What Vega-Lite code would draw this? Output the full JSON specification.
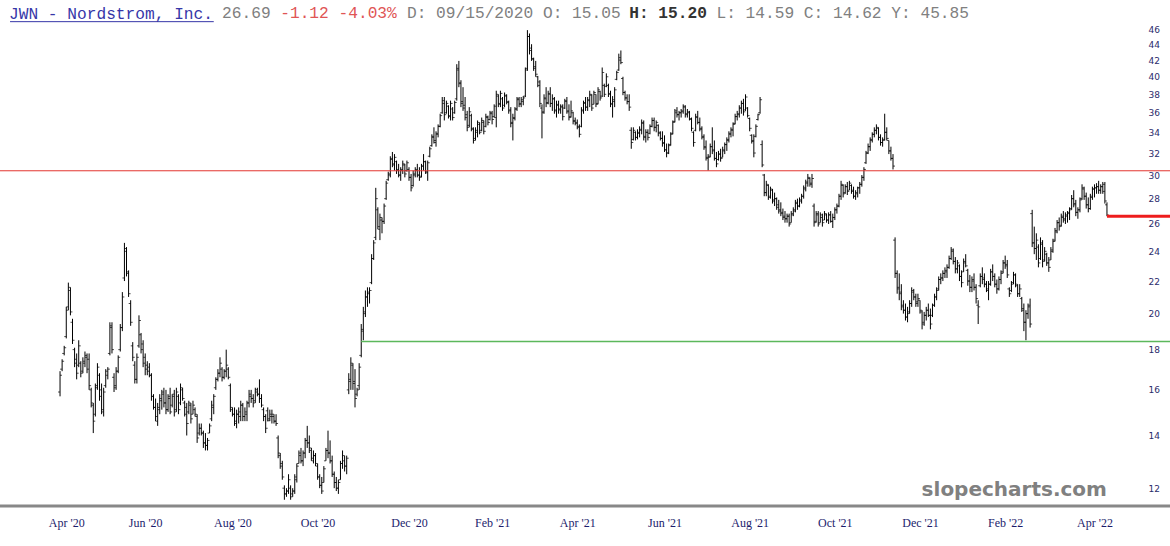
{
"$schema":"https://vega.github.io/schema/vega-lite/v6.json",
"width":1170,"height":486,"autosize":"none",
"padding":{"top":20,"left":0,"right":0,"bottom":40},
"background":"white",
"config":{"view":{"stroke":null}},
"title":{"text":"JWN - Nordstrom, Inc.","anchor":"start","frame":"group","dx":9,"dy":15,"offset":-1.5,"font":"Liberation Mono","fontSize":16.2,"fontWeight":"normal","color":"#3636a8"},
"datasets":{"ohlc":[
{"d":"2020-04-23","o":15.9,"h":16.9,"l":15.7,"c":16.7},
{"d":"2020-04-24","o":17.0,"h":17.5,"l":16.9,"c":17.4},
{"d":"2020-04-27","o":17.8,"h":18.2,"l":17.7,"c":18.1},
{"d":"2020-04-28","o":18.7,"h":20.4,"l":18.6,"c":20.2},
{"d":"2020-04-29","o":20.4,"h":21.9,"l":20.2,"c":21.6},
{"d":"2020-04-30","o":21.4,"h":21.6,"l":19.9,"c":20.1},
{"d":"2020-05-01","o":19.5,"h":19.7,"l":18.3,"c":18.5},
{"d":"2020-05-04","o":18.0,"h":18.1,"l":17.1,"c":17.3},
{"d":"2020-05-05","o":17.5,"h":17.8,"l":16.5,"c":16.8},
{"d":"2020-05-06","o":17.2,"h":18.5,"l":17.1,"c":18.2},
{"d":"2020-05-07","o":17.3,"h":17.4,"l":16.6,"c":16.8},
{"d":"2020-05-08","o":16.9,"h":17.6,"l":16.8,"c":17.4},
{"d":"2020-05-11","o":17.3,"h":17.9,"l":17.1,"c":17.7},
{"d":"2020-05-12","o":17.6,"h":17.8,"l":16.8,"c":17.0},
{"d":"2020-05-13","o":17.5,"h":17.8,"l":16.0,"c":16.2},
{"d":"2020-05-14","o":16.0,"h":16.1,"l":15.2,"c":15.4},
{"d":"2020-05-15","o":15.3,"h":15.4,"l":14.1,"c":14.6},
{"d":"2020-05-18","o":14.9,"h":16.3,"l":14.8,"c":16.1},
{"d":"2020-05-19","o":16.2,"h":17.3,"l":16.0,"c":17.1},
{"d":"2020-05-20","o":16.7,"h":16.8,"l":15.5,"c":15.7},
{"d":"2020-05-21","o":16.0,"h":16.3,"l":14.9,"c":15.1},
{"d":"2020-05-22","o":15.0,"h":16.1,"l":14.8,"c":15.9},
{"d":"2020-05-26","o":16.2,"h":17.0,"l":16.1,"c":16.9},
{"d":"2020-05-27","o":16.7,"h":17.1,"l":16.5,"c":17.0},
{"d":"2020-05-28","o":17.8,"h":19.5,"l":17.7,"c":19.3},
{"d":"2020-05-29","o":19.2,"h":19.5,"l":17.8,"c":18.0},
{"d":"2020-06-01","o":16.6,"h":16.8,"l":15.9,"c":16.1},
{"d":"2020-06-02","o":16.2,"h":17.1,"l":16.0,"c":16.9},
{"d":"2020-06-03","o":16.9,"h":17.7,"l":16.8,"c":17.6},
{"d":"2020-06-04","o":18.0,"h":19.4,"l":17.9,"c":19.2},
{"d":"2020-06-05","o":19.2,"h":21.3,"l":19.0,"c":21.0},
{"d":"2020-06-08","o":22.2,"h":24.6,"l":22.0,"c":24.2},
{"d":"2020-06-09","o":24.0,"h":24.3,"l":22.3,"c":22.6},
{"d":"2020-06-10","o":22.5,"h":22.7,"l":21.0,"c":21.2},
{"d":"2020-06-11","o":20.6,"h":20.8,"l":19.3,"c":19.5},
{"d":"2020-06-12","o":18.2,"h":18.4,"l":17.4,"c":17.6},
{"d":"2020-06-15","o":17.2,"h":17.4,"l":16.3,"c":16.5},
{"d":"2020-06-16","o":16.5,"h":17.8,"l":16.3,"c":17.6},
{"d":"2020-06-17","o":18.2,"h":19.9,"l":18.1,"c":19.6},
{"d":"2020-06-18","o":18.8,"h":18.9,"l":17.8,"c":18.0},
{"d":"2020-06-19","o":18.3,"h":18.5,"l":17.1,"c":17.3},
{"d":"2020-06-22","o":17.6,"h":17.8,"l":16.7,"c":17.0},
{"d":"2020-06-23","o":17.2,"h":17.4,"l":16.7,"c":16.9},
{"d":"2020-06-24","o":17.1,"h":17.3,"l":16.6,"c":16.7},
{"d":"2020-06-25","o":16.7,"h":16.8,"l":15.5,"c":15.7},
{"d":"2020-06-26","o":15.7,"h":15.8,"l":15.1,"c":15.2},
{"d":"2020-06-29","o":15.2,"h":15.6,"l":14.6,"c":14.8},
{"d":"2020-06-30","o":14.6,"h":15.4,"l":14.4,"c":15.2},
{"d":"2020-07-01","o":15.1,"h":15.8,"l":14.9,"c":15.6},
{"d":"2020-07-02","o":15.5,"h":16.0,"l":15.1,"c":15.8},
{"d":"2020-07-06","o":15.9,"h":16.1,"l":15.2,"c":15.4},
{"d":"2020-07-07","o":15.4,"h":16.0,"l":14.9,"c":15.1},
{"d":"2020-07-08","o":15.1,"h":15.8,"l":15.0,"c":15.6},
{"d":"2020-07-09","o":15.7,"h":16.1,"l":14.9,"c":15.0},
{"d":"2020-07-10","o":15.3,"h":15.8,"l":15.2,"c":15.7},
{"d":"2020-07-13","o":15.8,"h":16.0,"l":14.8,"c":15.0},
{"d":"2020-07-14","o":15.1,"h":16.1,"l":15.0,"c":15.9},
{"d":"2020-07-15","o":15.7,"h":15.8,"l":14.9,"c":15.1},
{"d":"2020-07-16","o":15.4,"h":16.3,"l":15.3,"c":16.1},
{"d":"2020-07-17","o":16.0,"h":16.1,"l":15.5,"c":15.6},
{"d":"2020-07-20","o":15.4,"h":15.5,"l":14.8,"c":14.9},
{"d":"2020-07-21","o":15.2,"h":15.4,"l":14.0,"c":14.5},
{"d":"2020-07-22","o":15.0,"h":15.5,"l":14.9,"c":15.4},
{"d":"2020-07-23","o":15.3,"h":15.4,"l":14.5,"c":14.7},
{"d":"2020-07-24","o":14.9,"h":15.5,"l":14.9,"c":15.3},
{"d":"2020-07-27","o":15.1,"h":15.2,"l":14.8,"c":14.9},
{"d":"2020-07-28","o":14.8,"h":14.9,"l":13.7,"c":13.9},
{"d":"2020-07-29","o":14.1,"h":14.5,"l":14.0,"c":14.3},
{"d":"2020-07-30","o":14.3,"h":14.5,"l":14.0,"c":14.1},
{"d":"2020-07-31","o":14.1,"h":14.2,"l":13.5,"c":13.7},
{"d":"2020-08-03","o":13.7,"h":14.1,"l":13.4,"c":13.6},
{"d":"2020-08-04","o":13.6,"h":13.9,"l":13.4,"c":13.8},
{"d":"2020-08-05","o":14.1,"h":14.5,"l":14.1,"c":14.4},
{"d":"2020-08-06","o":14.7,"h":15.5,"l":14.6,"c":15.3},
{"d":"2020-08-07","o":15.2,"h":15.8,"l":14.9,"c":15.7},
{"d":"2020-08-10","o":16.1,"h":16.6,"l":16.0,"c":16.5},
{"d":"2020-08-11","o":16.5,"h":17.0,"l":16.4,"c":16.8},
{"d":"2020-08-12","o":16.8,"h":17.6,"l":16.6,"c":17.3},
{"d":"2020-08-13","o":17.0,"h":17.1,"l":16.4,"c":16.6},
{"d":"2020-08-14","o":16.6,"h":17.0,"l":16.5,"c":16.9},
{"d":"2020-08-17","o":16.9,"h":18.0,"l":16.6,"c":17.2},
{"d":"2020-08-18","o":17.0,"h":17.1,"l":16.5,"c":16.6},
{"d":"2020-08-19","o":16.2,"h":16.3,"l":15.0,"c":15.2},
{"d":"2020-08-20","o":15.1,"h":15.2,"l":14.8,"c":14.9},
{"d":"2020-08-21","o":14.9,"h":15.2,"l":14.4,"c":14.6},
{"d":"2020-08-24","o":14.5,"h":15.1,"l":14.3,"c":14.9},
{"d":"2020-08-25","o":14.9,"h":15.2,"l":14.5,"c":15.0},
{"d":"2020-08-26","o":14.8,"h":15.5,"l":14.6,"c":15.3},
{"d":"2020-08-27","o":15.3,"h":15.4,"l":14.6,"c":14.8},
{"d":"2020-08-28","o":14.8,"h":15.2,"l":14.6,"c":15.0},
{"d":"2020-08-31","o":14.9,"h":15.5,"l":14.6,"c":15.4},
{"d":"2020-09-01","o":15.4,"h":16.0,"l":15.2,"c":15.8},
{"d":"2020-09-02","o":15.7,"h":16.0,"l":15.4,"c":15.6},
{"d":"2020-09-03","o":15.6,"h":15.8,"l":15.2,"c":15.4},
{"d":"2020-09-04","o":15.5,"h":16.1,"l":15.4,"c":16.0},
{"d":"2020-09-08","o":15.9,"h":16.1,"l":15.7,"c":15.8},
{"d":"2020-09-09","o":15.8,"h":16.5,"l":15.4,"c":15.6},
{"d":"2020-09-10","o":15.6,"h":15.8,"l":15.2,"c":15.3},
{"d":"2020-09-11","o":15.1,"h":15.2,"l":14.6,"c":14.8},
{"d":"2020-09-14","o":14.8,"h":14.9,"l":14.1,"c":14.3},
{"d":"2020-09-15","o":15.05,"h":15.2,"l":14.59,"c":14.62},
{"d":"2020-09-16","o":14.7,"h":15.1,"l":14.6,"c":14.9},
{"d":"2020-09-17","o":14.8,"h":15.1,"l":14.5,"c":14.9},
{"d":"2020-09-18","o":14.8,"h":14.9,"l":14.5,"c":14.6},
{"d":"2020-09-21","o":14.6,"h":14.9,"l":14.4,"c":14.5},
{"d":"2020-09-22","o":13.9,"h":14.0,"l":13.1,"c":13.3},
{"d":"2020-09-23","o":13.2,"h":13.3,"l":12.7,"c":12.8},
{"d":"2020-09-24","o":12.9,"h":13.0,"l":12.3,"c":12.4},
{"d":"2020-09-25","o":12.0,"h":12.1,"l":11.6,"c":11.8},
{"d":"2020-09-28","o":11.8,"h":12.0,"l":11.7,"c":11.9},
{"d":"2020-09-29","o":11.9,"h":12.5,"l":11.8,"c":12.3},
{"d":"2020-09-30","o":12.0,"h":12.1,"l":11.6,"c":11.7},
{"d":"2020-10-01","o":11.8,"h":12.0,"l":11.7,"c":11.9},
{"d":"2020-10-02","o":11.9,"h":12.5,"l":11.8,"c":12.4},
{"d":"2020-10-05","o":12.3,"h":12.9,"l":12.2,"c":12.8},
{"d":"2020-10-06","o":12.9,"h":13.4,"l":12.9,"c":13.3},
{"d":"2020-10-07","o":13.2,"h":13.5,"l":12.9,"c":13.0},
{"d":"2020-10-08","o":13.0,"h":13.4,"l":12.8,"c":13.3},
{"d":"2020-10-09","o":13.3,"h":13.9,"l":13.1,"c":13.8},
{"d":"2020-10-12","o":13.8,"h":14.4,"l":13.5,"c":13.7},
{"d":"2020-10-13","o":13.7,"h":14.0,"l":13.3,"c":13.5},
{"d":"2020-10-14","o":13.4,"h":13.5,"l":13.0,"c":13.1},
{"d":"2020-10-15","o":13.0,"h":13.4,"l":12.9,"c":13.2},
{"d":"2020-10-16","o":13.2,"h":13.3,"l":12.8,"c":12.9},
{"d":"2020-10-19","o":12.8,"h":12.9,"l":12.3,"c":12.4},
{"d":"2020-10-20","o":12.4,"h":12.5,"l":12.0,"c":12.1},
{"d":"2020-10-21","o":12.1,"h":12.4,"l":11.8,"c":11.9},
{"d":"2020-10-22","o":12.2,"h":12.8,"l":12.2,"c":12.7},
{"d":"2020-10-23","o":13.0,"h":13.5,"l":13.0,"c":13.4},
{"d":"2020-10-26","o":13.4,"h":14.2,"l":13.1,"c":13.3},
{"d":"2020-10-27","o":13.3,"h":13.8,"l":12.9,"c":13.0},
{"d":"2020-10-28","o":13.0,"h":13.2,"l":12.4,"c":12.5},
{"d":"2020-10-29","o":12.5,"h":12.6,"l":12.0,"c":12.2},
{"d":"2020-10-30","o":12.2,"h":12.4,"l":11.9,"c":12.0},
{"d":"2020-11-02","o":12.0,"h":12.3,"l":11.8,"c":12.2},
{"d":"2020-11-03","o":12.3,"h":13.0,"l":12.3,"c":12.9},
{"d":"2020-11-04","o":12.9,"h":13.4,"l":12.7,"c":13.2},
{"d":"2020-11-05","o":13.0,"h":13.2,"l":12.6,"c":12.8},
{"d":"2020-11-06","o":12.8,"h":13.2,"l":12.5,"c":13.1},
{"d":"2020-11-09","o":16.0,"h":16.8,"l":15.8,"c":16.5},
{"d":"2020-11-10","o":16.4,"h":17.6,"l":16.0,"c":17.3},
{"d":"2020-11-11","o":17.2,"h":17.3,"l":16.0,"c":16.3},
{"d":"2020-11-12","o":16.4,"h":17.0,"l":15.2,"c":15.6},
{"d":"2020-11-13","o":15.8,"h":16.1,"l":15.7,"c":16.0},
{"d":"2020-11-16","o":16.2,"h":17.3,"l":16.0,"c":17.1},
{"d":"2020-11-17","o":17.7,"h":19.4,"l":17.6,"c":19.1},
{"d":"2020-11-18","o":19.0,"h":20.4,"l":18.5,"c":20.1},
{"d":"2020-11-19","o":20.0,"h":21.4,"l":19.8,"c":21.0},
{"d":"2020-11-20","o":21.0,"h":21.6,"l":20.4,"c":21.2},
{"d":"2020-11-23","o":21.3,"h":21.6,"l":20.6,"c":21.4},
{"d":"2020-11-24","o":21.9,"h":23.8,"l":21.8,"c":23.5},
{"d":"2020-11-25","o":23.5,"h":24.8,"l":23.4,"c":24.6},
{"d":"2020-11-27","o":25.0,"h":28.9,"l":24.8,"c":28.0},
{"d":"2020-11-30","o":27.1,"h":27.3,"l":25.6,"c":25.8},
{"d":"2020-12-01","o":25.6,"h":26.8,"l":24.8,"c":26.5},
{"d":"2020-12-02","o":26.3,"h":26.5,"l":25.3,"c":26.2},
{"d":"2020-12-03","o":26.2,"h":27.6,"l":26.0,"c":27.4},
{"d":"2020-12-04","o":28.0,"h":29.5,"l":27.9,"c":29.3},
{"d":"2020-12-07","o":29.6,"h":30.3,"l":29.5,"c":30.1},
{"d":"2020-12-08","o":30.0,"h":31.7,"l":29.8,"c":31.4},
{"d":"2020-12-09","o":31.5,"h":32.1,"l":30.7,"c":31.0},
{"d":"2020-12-10","o":30.9,"h":31.9,"l":30.4,"c":31.6},
{"d":"2020-12-11","o":31.2,"h":31.3,"l":30.1,"c":30.4},
{"d":"2020-12-14","o":30.5,"h":31.0,"l":29.8,"c":30.0},
{"d":"2020-12-15","o":30.0,"h":30.7,"l":29.5,"c":30.5},
{"d":"2020-12-16","o":30.4,"h":31.3,"l":30.1,"c":31.0},
{"d":"2020-12-17","o":30.9,"h":31.0,"l":29.8,"c":30.1},
{"d":"2020-12-18","o":30.4,"h":31.3,"l":30.3,"c":31.1},
{"d":"2020-12-21","o":30.5,"h":30.7,"l":29.5,"c":29.8},
{"d":"2020-12-22","o":29.8,"h":30.1,"l":28.6,"c":28.9},
{"d":"2020-12-23","o":29.1,"h":30.4,"l":29.0,"c":30.1},
{"d":"2020-12-24","o":30.0,"h":30.7,"l":29.8,"c":30.4},
{"d":"2020-12-28","o":30.5,"h":31.0,"l":29.8,"c":30.0},
{"d":"2020-12-29","o":30.0,"h":30.7,"l":29.5,"c":29.8},
{"d":"2020-12-30","o":29.9,"h":31.0,"l":29.8,"c":30.8},
{"d":"2020-12-31","o":30.8,"h":31.9,"l":30.4,"c":31.2},
{"d":"2021-01-04","o":31.2,"h":31.3,"l":30.1,"c":30.3},
{"d":"2021-01-05","o":30.2,"h":31.3,"l":29.5,"c":31.1},
{"d":"2021-01-06","o":31.7,"h":32.6,"l":31.6,"c":32.4},
{"d":"2021-01-07","o":32.7,"h":33.8,"l":32.6,"c":33.6},
{"d":"2021-01-08","o":33.5,"h":34.5,"l":32.9,"c":33.2},
{"d":"2021-01-11","o":33.0,"h":34.1,"l":32.6,"c":33.9},
{"d":"2021-01-12","o":33.8,"h":34.8,"l":33.5,"c":34.6},
{"d":"2021-01-13","o":34.6,"h":35.9,"l":34.5,"c":35.7},
{"d":"2021-01-14","o":36.0,"h":37.7,"l":35.9,"c":37.3},
{"d":"2021-01-15","o":37.0,"h":37.7,"l":35.2,"c":35.8},
{"d":"2021-01-19","o":36.0,"h":37.3,"l":35.9,"c":37.0},
{"d":"2021-01-20","o":36.7,"h":36.8,"l":35.4,"c":35.7},
{"d":"2021-01-21","o":35.6,"h":37.3,"l":35.2,"c":37.0},
{"d":"2021-01-22","o":36.4,"h":36.6,"l":35.2,"c":35.5},
{"d":"2021-01-25","o":36.0,"h":37.3,"l":35.9,"c":37.1},
{"d":"2021-01-26","o":37.5,"h":41.5,"l":37.3,"c":41.0},
{"d":"2021-01-27","o":40.8,"h":41.9,"l":38.8,"c":39.2},
{"d":"2021-01-28","o":39.3,"h":39.6,"l":36.6,"c":37.0},
{"d":"2021-01-29","o":37.2,"h":38.8,"l":36.2,"c":36.5},
{"d":"2021-02-01","o":36.8,"h":37.7,"l":35.2,"c":35.5},
{"d":"2021-02-02","o":35.8,"h":36.2,"l":34.1,"c":34.5},
{"d":"2021-02-03","o":34.7,"h":36.6,"l":34.5,"c":36.1},
{"d":"2021-02-04","o":35.7,"h":35.9,"l":34.1,"c":34.4},
{"d":"2021-02-05","o":34.3,"h":34.5,"l":32.9,"c":33.2},
{"d":"2021-02-08","o":33.4,"h":34.5,"l":33.2,"c":34.2},
{"d":"2021-02-09","o":34.0,"h":35.2,"l":33.5,"c":35.0},
{"d":"2021-02-10","o":34.8,"h":35.0,"l":33.8,"c":34.0},
{"d":"2021-02-11","o":34.2,"h":35.5,"l":34.1,"c":35.2},
{"d":"2021-02-12","o":35.0,"h":35.2,"l":33.8,"c":34.1},
{"d":"2021-02-16","o":34.6,"h":35.9,"l":34.5,"c":35.6},
{"d":"2021-02-17","o":35.5,"h":35.7,"l":34.7,"c":35.0},
{"d":"2021-02-18","o":35.3,"h":36.2,"l":35.2,"c":36.0},
{"d":"2021-02-19","o":35.9,"h":36.2,"l":34.8,"c":35.3},
{"d":"2021-02-22","o":35.6,"h":36.9,"l":35.5,"c":36.7},
{"d":"2021-02-23","o":35.5,"h":38.4,"l":34.5,"c":38.0},
{"d":"2021-02-24","o":37.8,"h":38.0,"l":36.6,"c":37.0},
{"d":"2021-02-25","o":36.9,"h":38.4,"l":36.6,"c":38.1},
{"d":"2021-02-26","o":37.5,"h":37.7,"l":36.2,"c":36.5},
{"d":"2021-03-01","o":36.8,"h":38.2,"l":36.6,"c":37.9},
{"d":"2021-03-02","o":37.8,"h":38.0,"l":36.9,"c":37.2},
{"d":"2021-03-03","o":37.1,"h":37.3,"l":35.9,"c":36.2},
{"d":"2021-03-04","o":36.3,"h":36.6,"l":34.5,"c":34.9},
{"d":"2021-03-05","o":35.0,"h":35.9,"l":33.2,"c":35.5},
{"d":"2021-03-08","o":35.4,"h":36.6,"l":35.2,"c":36.4},
{"d":"2021-03-09","o":36.4,"h":37.7,"l":36.2,"c":37.5},
{"d":"2021-03-10","o":37.4,"h":37.7,"l":36.6,"c":36.9},
{"d":"2021-03-11","o":37.0,"h":37.7,"l":36.6,"c":37.4},
{"d":"2021-03-12","o":37.2,"h":37.8,"l":36.8,"c":37.6},
{"d":"2021-03-15","o":37.8,"h":41.1,"l":37.7,"c":40.8},
{"d":"2021-03-16","o":41.0,"h":45.85,"l":40.7,"c":45.0},
{"d":"2021-03-17","o":45.0,"h":45.4,"l":42.7,"c":43.2},
{"d":"2021-03-18","o":43.5,"h":44.0,"l":41.9,"c":42.2},
{"d":"2021-03-19","o":42.1,"h":42.3,"l":40.7,"c":41.0},
{"d":"2021-03-22","o":41.2,"h":41.9,"l":40.0,"c":40.3},
{"d":"2021-03-23","o":40.0,"h":40.1,"l":38.8,"c":39.0},
{"d":"2021-03-24","o":39.4,"h":39.6,"l":36.6,"c":37.0},
{"d":"2021-03-25","o":36.5,"h":36.9,"l":33.4,"c":36.0},
{"d":"2021-03-26","o":36.1,"h":38.0,"l":35.9,"c":37.6},
{"d":"2021-03-29","o":37.5,"h":38.8,"l":36.6,"c":37.0},
{"d":"2021-03-30","o":37.1,"h":38.4,"l":36.9,"c":38.1},
{"d":"2021-03-31","o":38.0,"h":38.8,"l":36.6,"c":37.0},
{"d":"2021-04-01","o":37.0,"h":38.0,"l":36.2,"c":37.5},
{"d":"2021-04-05","o":37.5,"h":37.7,"l":35.9,"c":36.2},
{"d":"2021-04-06","o":36.3,"h":37.3,"l":35.5,"c":36.9},
{"d":"2021-04-07","o":36.8,"h":37.3,"l":35.9,"c":36.3},
{"d":"2021-04-08","o":36.4,"h":36.9,"l":35.9,"c":36.7},
{"d":"2021-04-09","o":36.6,"h":36.9,"l":35.2,"c":35.6},
{"d":"2021-04-12","o":36.5,"h":37.5,"l":36.4,"c":37.3},
{"d":"2021-04-13","o":37.2,"h":37.7,"l":35.9,"c":36.1},
{"d":"2021-04-14","o":36.2,"h":36.9,"l":35.2,"c":35.5},
{"d":"2021-04-15","o":35.6,"h":37.3,"l":35.5,"c":36.2},
{"d":"2021-04-16","o":36.0,"h":36.1,"l":34.8,"c":35.1},
{"d":"2021-04-19","o":35.2,"h":35.5,"l":34.7,"c":34.9},
{"d":"2021-04-20","o":35.0,"h":35.3,"l":34.3,"c":34.5},
{"d":"2021-04-21","o":34.6,"h":34.8,"l":33.5,"c":33.8},
{"d":"2021-04-22","o":34.6,"h":36.6,"l":34.5,"c":36.3},
{"d":"2021-04-23","o":36.2,"h":37.3,"l":35.9,"c":37.1},
{"d":"2021-04-26","o":37.0,"h":37.7,"l":36.2,"c":36.6},
{"d":"2021-04-27","o":36.6,"h":37.7,"l":36.2,"c":37.4},
{"d":"2021-04-28","o":37.3,"h":38.4,"l":36.6,"c":38.0},
{"d":"2021-04-29","o":37.9,"h":38.0,"l":36.2,"c":36.5},
{"d":"2021-04-30","o":36.9,"h":38.4,"l":36.9,"c":38.2},
{"d":"2021-05-03","o":38.0,"h":38.0,"l":36.6,"c":36.9},
{"d":"2021-05-04","o":37.0,"h":38.8,"l":36.9,"c":38.5},
{"d":"2021-05-05","o":38.3,"h":38.4,"l":37.3,"c":37.6},
{"d":"2021-05-06","o":37.8,"h":41.1,"l":37.7,"c":40.5},
{"d":"2021-05-07","o":39.0,"h":39.2,"l":37.7,"c":38.0},
{"d":"2021-05-10","o":38.9,"h":40.4,"l":38.8,"c":40.0},
{"d":"2021-05-11","o":39.0,"h":39.2,"l":37.7,"c":38.0},
{"d":"2021-05-12","o":38.1,"h":38.4,"l":36.6,"c":36.9},
{"d":"2021-05-13","o":37.0,"h":37.8,"l":35.5,"c":37.4},
{"d":"2021-05-14","o":37.2,"h":38.8,"l":36.6,"c":38.5},
{"d":"2021-05-17","o":39.7,"h":40.7,"l":39.6,"c":40.5},
{"d":"2021-05-18","o":40.8,"h":42.8,"l":40.7,"c":42.3},
{"d":"2021-05-19","o":42.0,"h":43.2,"l":41.5,"c":41.7},
{"d":"2021-05-20","o":39.8,"h":40.0,"l":37.9,"c":38.2},
{"d":"2021-05-21","o":38.2,"h":38.4,"l":37.3,"c":37.6},
{"d":"2021-05-24","o":37.6,"h":38.0,"l":36.9,"c":37.2},
{"d":"2021-05-25","o":37.2,"h":38.0,"l":36.2,"c":36.6},
{"d":"2021-05-26","o":34.2,"h":34.5,"l":32.4,"c":33.0},
{"d":"2021-05-27","o":33.3,"h":34.5,"l":33.2,"c":34.2},
{"d":"2021-05-28","o":34.0,"h":34.1,"l":33.2,"c":33.5},
{"d":"2021-06-01","o":33.5,"h":34.3,"l":33.3,"c":34.0},
{"d":"2021-06-02","o":33.9,"h":34.6,"l":33.5,"c":34.3},
{"d":"2021-06-03","o":34.2,"h":35.3,"l":33.8,"c":35.0},
{"d":"2021-06-04","o":34.9,"h":35.2,"l":33.2,"c":33.6},
{"d":"2021-06-07","o":33.5,"h":34.3,"l":33.0,"c":34.0},
{"d":"2021-06-08","o":34.0,"h":34.3,"l":33.2,"c":33.5},
{"d":"2021-06-09","o":33.9,"h":34.8,"l":33.8,"c":34.6},
{"d":"2021-06-10","o":34.6,"h":35.5,"l":34.5,"c":35.2},
{"d":"2021-06-11","o":35.2,"h":35.5,"l":34.1,"c":34.5},
{"d":"2021-06-14","o":34.5,"h":35.2,"l":34.0,"c":35.0},
{"d":"2021-06-15","o":34.7,"h":34.8,"l":33.6,"c":33.9},
{"d":"2021-06-16","o":34.0,"h":34.1,"l":33.2,"c":33.4},
{"d":"2021-06-17","o":33.4,"h":34.1,"l":32.6,"c":32.9},
{"d":"2021-06-18","o":33.0,"h":33.7,"l":32.1,"c":32.3},
{"d":"2021-06-21","o":32.3,"h":32.9,"l":31.6,"c":32.0},
{"d":"2021-06-22","o":32.0,"h":32.9,"l":31.9,"c":32.7},
{"d":"2021-06-23","o":32.8,"h":34.0,"l":32.7,"c":33.8},
{"d":"2021-06-24","o":33.9,"h":35.2,"l":33.8,"c":35.0},
{"d":"2021-06-25","o":35.1,"h":36.4,"l":35.0,"c":36.2},
{"d":"2021-06-28","o":36.0,"h":36.6,"l":35.5,"c":35.8},
{"d":"2021-06-29","o":35.8,"h":36.2,"l":35.2,"c":36.0},
{"d":"2021-06-30","o":36.0,"h":36.4,"l":35.5,"c":36.2},
{"d":"2021-07-01","o":36.1,"h":36.9,"l":35.9,"c":36.7},
{"d":"2021-07-02","o":36.6,"h":36.8,"l":35.5,"c":35.9},
{"d":"2021-07-06","o":35.8,"h":36.4,"l":35.5,"c":36.1},
{"d":"2021-07-07","o":36.0,"h":36.2,"l":35.2,"c":35.4},
{"d":"2021-07-08","o":35.3,"h":35.5,"l":34.1,"c":34.4},
{"d":"2021-07-09","o":34.0,"h":34.1,"l":32.6,"c":33.0},
{"d":"2021-07-12","o":34.2,"h":35.9,"l":34.1,"c":35.6},
{"d":"2021-07-13","o":35.5,"h":36.2,"l":34.8,"c":35.0},
{"d":"2021-07-14","o":35.0,"h":35.5,"l":34.1,"c":34.3},
{"d":"2021-07-15","o":34.4,"h":34.6,"l":33.3,"c":33.5},
{"d":"2021-07-16","o":33.6,"h":33.8,"l":32.3,"c":32.6},
{"d":"2021-07-19","o":32.5,"h":33.2,"l":31.3,"c":31.6},
{"d":"2021-07-20","o":31.5,"h":31.9,"l":30.4,"c":31.6},
{"d":"2021-07-21","o":31.7,"h":32.9,"l":31.6,"c":32.6},
{"d":"2021-07-22","o":32.6,"h":34.5,"l":31.9,"c":32.2},
{"d":"2021-07-23","o":32.3,"h":33.2,"l":31.3,"c":31.5},
{"d":"2021-07-26","o":31.5,"h":32.1,"l":30.7,"c":31.0},
{"d":"2021-07-27","o":31.4,"h":32.2,"l":31.3,"c":31.9},
{"d":"2021-07-28","o":31.9,"h":32.4,"l":31.2,"c":31.5},
{"d":"2021-07-29","o":31.6,"h":32.6,"l":31.6,"c":32.3},
{"d":"2021-07-30","o":32.2,"h":33.0,"l":31.9,"c":32.8},
{"d":"2021-08-02","o":32.8,"h":33.5,"l":32.2,"c":33.3},
{"d":"2021-08-03","o":33.2,"h":34.1,"l":33.0,"c":33.9},
{"d":"2021-08-04","o":33.8,"h":34.5,"l":33.5,"c":34.3},
{"d":"2021-08-05","o":34.2,"h":35.0,"l":33.6,"c":34.8},
{"d":"2021-08-06","o":34.9,"h":35.9,"l":34.8,"c":35.6},
{"d":"2021-08-09","o":35.6,"h":36.2,"l":35.2,"c":35.9},
{"d":"2021-08-10","o":35.8,"h":36.8,"l":35.5,"c":36.5},
{"d":"2021-08-11","o":36.5,"h":37.3,"l":35.9,"c":37.0},
{"d":"2021-08-12","o":37.0,"h":37.5,"l":35.7,"c":36.1},
{"d":"2021-08-13","o":36.3,"h":38.0,"l":36.2,"c":37.7},
{"d":"2021-08-16","o":36.5,"h":36.6,"l":35.5,"c":35.7},
{"d":"2021-08-17","o":35.4,"h":35.5,"l":34.1,"c":34.4},
{"d":"2021-08-18","o":33.7,"h":33.8,"l":32.9,"c":33.1},
{"d":"2021-08-19","o":33.2,"h":33.8,"l":31.6,"c":32.0},
{"d":"2021-08-20","o":33.6,"h":34.8,"l":33.5,"c":34.6},
{"d":"2021-08-23","o":35.3,"h":35.9,"l":35.2,"c":35.8},
{"d":"2021-08-24","o":36.0,"h":37.7,"l":35.9,"c":37.4},
{"d":"2021-08-25","o":32.8,"h":33.2,"l":30.7,"c":30.9},
{"d":"2021-08-26","o":30.0,"h":30.1,"l":28.2,"c":28.5},
{"d":"2021-08-27","o":28.5,"h":29.5,"l":28.2,"c":29.2},
{"d":"2021-08-30","o":29.1,"h":29.2,"l":27.9,"c":28.1},
{"d":"2021-08-31","o":28.2,"h":29.0,"l":28.0,"c":28.8},
{"d":"2021-09-01","o":28.7,"h":28.8,"l":27.6,"c":27.8},
{"d":"2021-09-02","o":27.9,"h":28.5,"l":27.4,"c":28.0},
{"d":"2021-09-03","o":28.0,"h":28.1,"l":27.1,"c":27.3},
{"d":"2021-09-07","o":27.5,"h":27.9,"l":26.8,"c":27.0},
{"d":"2021-09-08","o":27.1,"h":27.7,"l":26.6,"c":26.8},
{"d":"2021-09-09","o":26.9,"h":27.2,"l":26.3,"c":26.5},
{"d":"2021-09-10","o":26.6,"h":27.0,"l":26.1,"c":26.4},
{"d":"2021-09-13","o":26.4,"h":26.8,"l":26.1,"c":26.6},
{"d":"2021-09-14","o":26.6,"h":26.8,"l":25.8,"c":26.0},
{"d":"2021-09-15","o":26.1,"h":27.0,"l":26.1,"c":26.8},
{"d":"2021-09-16","o":26.7,"h":27.3,"l":26.6,"c":27.1},
{"d":"2021-09-17","o":27.0,"h":27.9,"l":26.9,"c":27.7},
{"d":"2021-09-20","o":27.6,"h":28.0,"l":27.1,"c":27.4},
{"d":"2021-09-21","o":27.4,"h":28.1,"l":27.3,"c":27.9},
{"d":"2021-09-22","o":27.8,"h":28.4,"l":27.6,"c":28.2},
{"d":"2021-09-23","o":28.2,"h":29.1,"l":28.0,"c":28.9},
{"d":"2021-09-24","o":28.8,"h":29.6,"l":28.6,"c":29.4},
{"d":"2021-09-27","o":29.3,"h":30.1,"l":29.0,"c":29.8},
{"d":"2021-09-28","o":29.7,"h":29.8,"l":29.0,"c":29.2},
{"d":"2021-09-29","o":29.3,"h":30.1,"l":28.9,"c":29.7},
{"d":"2021-09-30","o":27.4,"h":27.6,"l":25.8,"c":26.1},
{"d":"2021-10-01","o":26.2,"h":27.0,"l":26.1,"c":26.8},
{"d":"2021-10-04","o":26.7,"h":27.0,"l":25.8,"c":26.0},
{"d":"2021-10-05","o":26.1,"h":26.9,"l":26.1,"c":26.7},
{"d":"2021-10-06","o":26.5,"h":26.8,"l":25.8,"c":26.1},
{"d":"2021-10-07","o":26.3,"h":27.0,"l":26.3,"c":26.8},
{"d":"2021-10-08","o":26.7,"h":26.8,"l":26.1,"c":26.3},
{"d":"2021-10-11","o":26.3,"h":26.9,"l":26.0,"c":26.7},
{"d":"2021-10-12","o":26.7,"h":27.0,"l":26.1,"c":26.2},
{"d":"2021-10-13","o":26.2,"h":26.8,"l":25.7,"c":26.5},
{"d":"2021-10-14","o":26.5,"h":27.3,"l":26.3,"c":27.1},
{"d":"2021-10-15","o":27.1,"h":27.6,"l":26.8,"c":27.4},
{"d":"2021-10-18","o":27.4,"h":28.4,"l":27.3,"c":28.2},
{"d":"2021-10-19","o":28.2,"h":29.5,"l":27.9,"c":29.2},
{"d":"2021-10-20","o":29.1,"h":29.2,"l":28.1,"c":28.4},
{"d":"2021-10-21","o":28.5,"h":29.2,"l":28.4,"c":29.0},
{"d":"2021-10-22","o":29.0,"h":29.4,"l":28.3,"c":28.6},
{"d":"2021-10-25","o":28.7,"h":29.5,"l":28.7,"c":29.3},
{"d":"2021-10-26","o":29.1,"h":29.2,"l":28.4,"c":28.6},
{"d":"2021-10-27","o":28.7,"h":29.0,"l":28.0,"c":28.2},
{"d":"2021-10-28","o":28.2,"h":28.7,"l":27.9,"c":28.5},
{"d":"2021-10-29","o":28.4,"h":29.0,"l":28.1,"c":28.9},
{"d":"2021-11-01","o":28.9,"h":29.4,"l":28.4,"c":29.2},
{"d":"2021-11-02","o":29.2,"h":30.0,"l":29.0,"c":29.8},
{"d":"2021-11-03","o":29.8,"h":30.7,"l":29.5,"c":30.5},
{"d":"2021-11-04","o":31.1,"h":32.2,"l":31.0,"c":32.0},
{"d":"2021-11-05","o":32.0,"h":32.9,"l":31.9,"c":32.6},
{"d":"2021-11-08","o":32.6,"h":33.5,"l":32.2,"c":33.3},
{"d":"2021-11-09","o":33.2,"h":34.0,"l":33.0,"c":33.8},
{"d":"2021-11-10","o":33.8,"h":34.5,"l":33.5,"c":34.2},
{"d":"2021-11-11","o":34.2,"h":34.8,"l":33.8,"c":34.5},
{"d":"2021-11-12","o":34.4,"h":34.5,"l":33.2,"c":33.5},
{"d":"2021-11-15","o":33.5,"h":33.8,"l":32.7,"c":33.0},
{"d":"2021-11-16","o":33.0,"h":33.5,"l":32.6,"c":33.2},
{"d":"2021-11-17","o":33.3,"h":35.9,"l":33.2,"c":34.0},
{"d":"2021-11-18","o":34.0,"h":34.5,"l":33.2,"c":33.4},
{"d":"2021-11-19","o":33.2,"h":33.2,"l":31.9,"c":32.2},
{"d":"2021-11-22","o":32.2,"h":32.6,"l":31.3,"c":31.5},
{"d":"2021-11-23","o":31.5,"h":31.9,"l":30.5,"c":30.8},
{"d":"2021-11-24","o":24.8,"h":25.0,"l":22.2,"c":22.5},
{"d":"2021-11-26","o":22.5,"h":22.7,"l":21.2,"c":21.5},
{"d":"2021-11-29","o":21.6,"h":22.5,"l":20.8,"c":21.2},
{"d":"2021-11-30","o":21.3,"h":21.8,"l":20.2,"c":20.4},
{"d":"2021-12-01","o":20.5,"h":20.8,"l":20.0,"c":20.2},
{"d":"2021-12-02","o":20.2,"h":20.6,"l":19.6,"c":19.8},
{"d":"2021-12-03","o":19.8,"h":20.4,"l":19.5,"c":20.0},
{"d":"2021-12-06","o":20.1,"h":20.8,"l":20.0,"c":20.6},
{"d":"2021-12-07","o":20.6,"h":21.6,"l":20.4,"c":21.4},
{"d":"2021-12-08","o":21.3,"h":21.5,"l":20.8,"c":21.0},
{"d":"2021-12-09","o":21.0,"h":21.2,"l":20.4,"c":20.6},
{"d":"2021-12-10","o":20.7,"h":21.2,"l":20.4,"c":20.9},
{"d":"2021-12-13","o":20.8,"h":20.8,"l":20.0,"c":20.2},
{"d":"2021-12-14","o":20.1,"h":20.2,"l":19.1,"c":19.4},
{"d":"2021-12-15","o":19.5,"h":20.1,"l":19.3,"c":19.9},
{"d":"2021-12-16","o":19.9,"h":20.4,"l":19.6,"c":20.2},
{"d":"2021-12-17","o":20.2,"h":20.6,"l":19.8,"c":19.9},
{"d":"2021-12-20","o":19.9,"h":20.3,"l":19.1,"c":19.4},
{"d":"2021-12-21","o":19.9,"h":20.6,"l":19.8,"c":20.5},
{"d":"2021-12-22","o":20.5,"h":21.2,"l":20.4,"c":21.0},
{"d":"2021-12-23","o":21.0,"h":21.6,"l":20.8,"c":21.4},
{"d":"2021-12-27","o":21.5,"h":22.3,"l":21.4,"c":22.1},
{"d":"2021-12-28","o":22.1,"h":22.5,"l":21.8,"c":22.2},
{"d":"2021-12-29","o":22.2,"h":22.7,"l":22.0,"c":22.5},
{"d":"2021-12-30","o":22.5,"h":22.9,"l":22.2,"c":22.7},
{"d":"2021-12-31","o":22.6,"h":23.1,"l":22.2,"c":22.9},
{"d":"2022-01-03","o":22.9,"h":23.7,"l":22.8,"c":23.5},
{"d":"2022-01-04","o":23.5,"h":24.3,"l":23.4,"c":24.1},
{"d":"2022-01-05","o":24.0,"h":24.2,"l":23.1,"c":23.3},
{"d":"2022-01-06","o":23.3,"h":23.6,"l":22.5,"c":22.8},
{"d":"2022-01-07","o":22.8,"h":23.4,"l":22.5,"c":23.2},
{"d":"2022-01-10","o":23.0,"h":23.1,"l":22.0,"c":22.3},
{"d":"2022-01-11","o":22.3,"h":22.7,"l":21.6,"c":21.9},
{"d":"2022-01-12","o":22.6,"h":23.5,"l":22.6,"c":23.3},
{"d":"2022-01-13","o":23.2,"h":23.8,"l":22.9,"c":23.0},
{"d":"2022-01-14","o":22.7,"h":22.8,"l":21.7,"c":22.0},
{"d":"2022-01-18","o":22.0,"h":22.4,"l":21.3,"c":21.6},
{"d":"2022-01-19","o":21.6,"h":22.3,"l":21.3,"c":22.0},
{"d":"2022-01-20","o":22.1,"h":22.5,"l":21.4,"c":21.6},
{"d":"2022-01-21","o":21.6,"h":21.8,"l":20.6,"c":20.9},
{"d":"2022-01-24","o":20.5,"h":20.8,"l":19.4,"c":20.4},
{"d":"2022-01-25","o":21.7,"h":22.5,"l":21.6,"c":22.3},
{"d":"2022-01-26","o":22.3,"h":22.9,"l":21.8,"c":22.1},
{"d":"2022-01-27","o":22.2,"h":22.5,"l":21.6,"c":21.8},
{"d":"2022-01-28","o":21.8,"h":22.0,"l":21.3,"c":21.5},
{"d":"2022-01-31","o":21.4,"h":22.0,"l":20.8,"c":21.8},
{"d":"2022-02-01","o":21.8,"h":22.8,"l":21.7,"c":22.6},
{"d":"2022-02-02","o":22.6,"h":23.1,"l":22.0,"c":22.3},
{"d":"2022-02-03","o":22.3,"h":22.5,"l":21.6,"c":21.8},
{"d":"2022-02-04","o":21.8,"h":22.1,"l":21.2,"c":21.5},
{"d":"2022-02-07","o":21.5,"h":22.3,"l":21.4,"c":22.1},
{"d":"2022-02-08","o":22.1,"h":22.7,"l":21.8,"c":22.5},
{"d":"2022-02-09","o":22.6,"h":23.4,"l":22.5,"c":23.2},
{"d":"2022-02-10","o":23.2,"h":23.7,"l":22.8,"c":23.0},
{"d":"2022-02-11","o":23.1,"h":23.4,"l":22.2,"c":22.4},
{"d":"2022-02-14","o":21.5,"h":21.6,"l":21.0,"c":21.2},
{"d":"2022-02-15","o":21.4,"h":22.0,"l":21.3,"c":21.8},
{"d":"2022-02-16","o":21.9,"h":22.6,"l":21.8,"c":22.4},
{"d":"2022-02-17","o":22.4,"h":22.5,"l":21.6,"c":21.8},
{"d":"2022-02-18","o":21.7,"h":21.8,"l":21.0,"c":21.2},
{"d":"2022-02-22","o":21.2,"h":21.8,"l":21.0,"c":21.5},
{"d":"2022-02-23","o":20.9,"h":21.0,"l":20.1,"c":20.3},
{"d":"2022-02-24","o":20.2,"h":20.6,"l":19.0,"c":19.5},
{"d":"2022-02-25","o":19.5,"h":20.2,"l":18.5,"c":20.0},
{"d":"2022-02-28","o":20.0,"h":20.6,"l":19.7,"c":20.4},
{"d":"2022-03-01","o":20.5,"h":20.9,"l":19.2,"c":19.4},
{"d":"2022-03-02","o":26.8,"h":27.1,"l":24.3,"c":24.6},
{"d":"2022-03-03","o":24.6,"h":25.8,"l":23.8,"c":24.2},
{"d":"2022-03-04","o":24.2,"h":25.3,"l":23.4,"c":24.8},
{"d":"2022-03-07","o":24.3,"h":24.5,"l":22.9,"c":23.2},
{"d":"2022-03-08","o":23.5,"h":25.0,"l":23.4,"c":24.6},
{"d":"2022-03-09","o":24.5,"h":24.8,"l":22.9,"c":23.3},
{"d":"2022-03-10","o":23.4,"h":24.3,"l":23.3,"c":24.0},
{"d":"2022-03-11","o":23.8,"h":23.9,"l":23.0,"c":23.2},
{"d":"2022-03-14","o":23.2,"h":23.6,"l":22.6,"c":22.9},
{"d":"2022-03-15","o":23.4,"h":24.3,"l":23.4,"c":24.1},
{"d":"2022-03-16","o":24.0,"h":24.9,"l":23.9,"c":24.7},
{"d":"2022-03-17","o":24.8,"h":25.7,"l":24.7,"c":25.5},
{"d":"2022-03-18","o":25.4,"h":26.3,"l":25.3,"c":26.1},
{"d":"2022-03-21","o":26.1,"h":26.5,"l":25.5,"c":25.8},
{"d":"2022-03-22","o":25.9,"h":26.8,"l":25.8,"c":26.6},
{"d":"2022-03-23","o":26.5,"h":27.0,"l":26.1,"c":26.4},
{"d":"2022-03-24","o":26.3,"h":26.9,"l":26.0,"c":26.7},
{"d":"2022-03-25","o":26.6,"h":27.0,"l":26.1,"c":26.9},
{"d":"2022-03-28","o":26.8,"h":27.3,"l":26.3,"c":27.1},
{"d":"2022-03-29","o":27.2,"h":28.3,"l":27.1,"c":28.0},
{"d":"2022-03-30","o":28.0,"h":28.7,"l":27.3,"c":27.5},
{"d":"2022-03-31","o":27.6,"h":27.9,"l":26.6,"c":26.9},
{"d":"2022-04-01","o":26.9,"h":27.3,"l":26.4,"c":27.1},
{"d":"2022-04-04","o":27.1,"h":28.1,"l":26.9,"c":27.9},
{"d":"2022-04-05","o":28.0,"h":29.2,"l":27.9,"c":28.9},
{"d":"2022-04-06","o":28.8,"h":29.0,"l":27.9,"c":28.2},
{"d":"2022-04-07","o":28.2,"h":28.5,"l":27.2,"c":27.5},
{"d":"2022-04-08","o":27.5,"h":28.1,"l":26.9,"c":27.2},
{"d":"2022-04-11","o":27.2,"h":28.4,"l":27.1,"c":28.2},
{"d":"2022-04-12","o":28.1,"h":29.0,"l":27.9,"c":28.8},
{"d":"2022-04-13","o":28.8,"h":29.2,"l":28.1,"c":28.9},
{"d":"2022-04-14","o":28.9,"h":29.3,"l":28.4,"c":29.0},
{"d":"2022-04-18","o":29.0,"h":29.5,"l":28.4,"c":28.7},
{"d":"2022-04-19","o":28.7,"h":29.2,"l":28.4,"c":29.0},
{"d":"2022-04-20","o":29.0,"h":29.4,"l":28.4,"c":28.6},
{"d":"2022-04-21","o":29.2,"h":29.4,"l":27.6,"c":27.81},
{"d":"2022-04-22","o":27.5,"h":27.7,"l":26.6,"c":26.69}
]},
"layer":[
{"data":{"values":[{}]},
 "mark":{"type":"rule","color":"#888888","strokeWidth":3},
 "encoding":{"y":{"datum":11.39,"type":"quantitative"}}},
{"data":{"name":"ohlc"},
 "mark":{"type":"rule","color":"#000000","strokeWidth":1},
 "encoding":{
  "x":{"field":"d","type":"ordinal","scale":{"type":"point","range":[59,1108]},
   "axis":{"title":null,"values":["2020-04-28","2020-06-22","2020-08-20","2020-10-19","2020-12-21","2021-02-19","2021-04-20","2021-06-18","2021-08-17","2021-10-14","2021-12-13","2022-02-10","2022-04-13"],
    "labelExpr":"utcFormat(toDate(datum.value), \"%b '%y\")","labelAngle":0,"labelOverlap":false,"ticks":false,"tickSize":0,"grid":false,"domain":false,
    "labelFont":"Liberation Serif","labelFontSize":12,"labelColor":"#1c1c6c","labelPadding":11}},
  "y":{"field":"l","type":"quantitative","scale":{"type":"log","domain":[11.39,47.23],"nice":false,"zero":false},
   "axis":{"orient":"right","offset":-22,"title":null,"values":[12,14,16,18,20,22,24,26,28,30,32,34,36,38,40,42,44,46],"format":"d",
    "ticks":false,"tickSize":0,"domain":false,"grid":false,"labelFont":"DejaVu Sans","labelFontSize":9,"labelColor":"#2b2b6b","labelPadding":0}},
  "y2":{"field":"h"}}},
{"data":{"name":"ohlc"},
 "mark":{"type":"tick","orient":"horizontal","size":2,"thickness":1,"color":"#000000","xOffset":-1},
 "encoding":{"x":{"field":"d","type":"ordinal"},"y":{"field":"o","type":"quantitative"}}},
{"data":{"name":"ohlc"},
 "mark":{"type":"tick","orient":"horizontal","size":2,"thickness":1,"color":"#000000","xOffset":1},
 "encoding":{"x":{"field":"d","type":"ordinal"},"y":{"field":"c","type":"quantitative"}}},
{"data":{"values":[{}]},
 "mark":{"type":"rule","color":"#e3342f","strokeWidth":1},
 "encoding":{"y":{"datum":30.38,"type":"quantitative"}}},
{"data":{"values":[{}]},
 "mark":{"type":"rule","color":"#5cb85c","strokeWidth":1.5},
 "encoding":{"x":{"datum":"2020-11-17","type":"ordinal"},"x2":{"value":"width"},"y":{"datum":18.43,"type":"quantitative"}}},
{"data":{"values":[{}]},
 "mark":{"type":"rule","color":"#ee1c1c","strokeWidth":3},
 "encoding":{"x":{"datum":"2022-04-22","type":"ordinal"},"x2":{"value":"width"},"y":{"datum":26.6,"type":"quantitative"}}},
{"data":{"values":[{}]},
 "mark":{"type":"rule","color":"#3636a8","strokeWidth":1,"xOffset":-50},
 "encoding":{"x":{"datum":"2020-04-23","type":"ordinal"},"x2":{"datum":"2020-08-07","type":"ordinal"},"y":{"datum":47.0,"type":"quantitative"}}},
{"data":{"values":[{}]},
 "mark":{"type":"text","align":"right","baseline":"middle","font":"DejaVu Sans","fontSize":20,"fontWeight":"bold","color":"#808080"},
 "encoding":{"x":{"datum":"2022-04-22","type":"ordinal"},"y":{"datum":11.95,"type":"quantitative"},"text":{"value":"slopecharts.com"}}},
{"data":{"values":[{}]},
 "mark":{"type":"text","align":"left","baseline":"alphabetic","font":"Liberation Mono","fontSize":16.2,"color":"#808080"},
 "encoding":{"x":{"datum":"2020-08-13","type":"ordinal"},"y":{"datum":47.46,"type":"quantitative"},"text":{"value":"26.69"}}},
{"data":{"values":[{}]},
 "mark":{"type":"text","align":"left","baseline":"alphabetic","font":"Liberation Mono","fontSize":16.2,"color":"#e05555"},
 "encoding":{"x":{"datum":"2020-09-23","type":"ordinal"},"y":{"datum":47.46,"type":"quantitative"},"text":{"value":"-1.12 -4.03%"}}},
{"data":{"values":[{}]},
 "mark":{"type":"text","align":"left","baseline":"alphabetic","font":"Liberation Mono","fontSize":16.2,"color":"#808080"},
 "encoding":{"x":{"datum":"2020-12-18","type":"ordinal"},"y":{"datum":47.46,"type":"quantitative"},"text":{"value":"D: 09/15/2020 O: 15.05"}}},
{"data":{"values":[{}]},
 "mark":{"type":"text","align":"left","baseline":"alphabetic","font":"Liberation Mono","fontSize":16.2,"fontWeight":"bold","color":"#333333"},
 "encoding":{"x":{"datum":"2021-05-25","type":"ordinal"},"y":{"datum":47.46,"type":"quantitative"},"text":{"value":"H: 15.20"}}},
{"data":{"values":[{}]},
 "mark":{"type":"text","align":"left","baseline":"alphabetic","font":"Liberation Mono","fontSize":16.2,"color":"#808080"},
 "encoding":{"x":{"datum":"2021-07-26","type":"ordinal"},"y":{"datum":47.46,"type":"quantitative"},"text":{"value":"L: 14.59 C: 14.62 Y: 45.85"}}}
]
}
